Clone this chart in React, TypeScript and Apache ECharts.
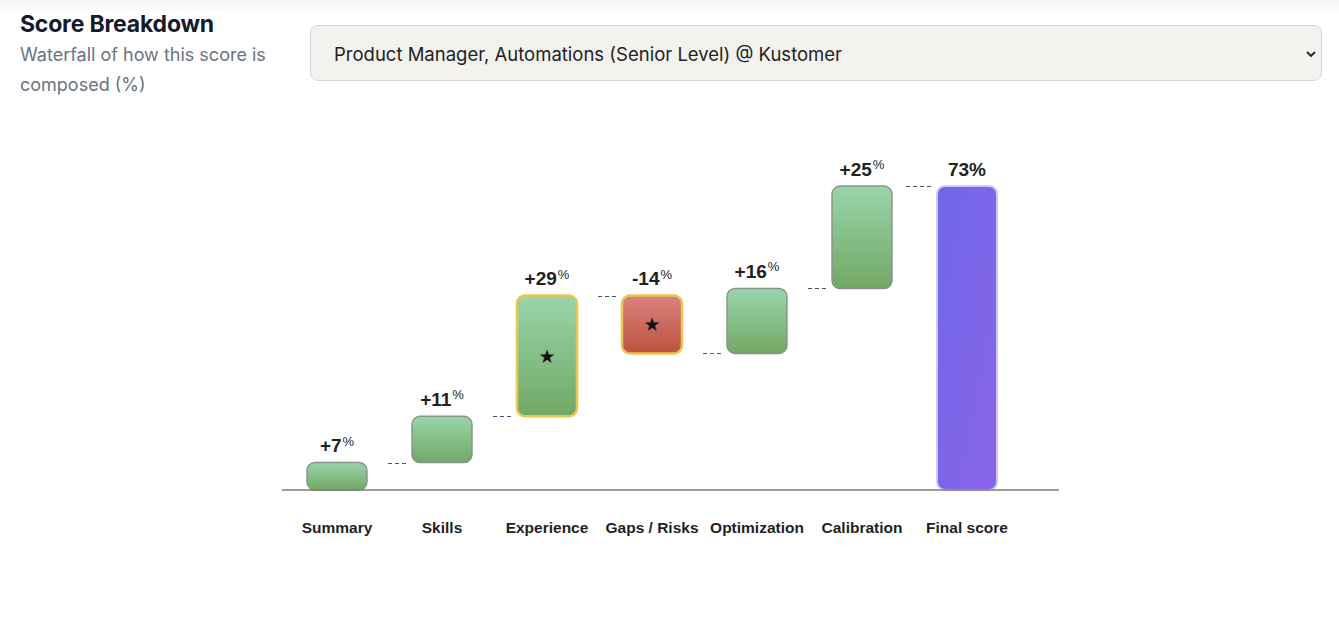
import React, { useEffect, useRef } from "react";
import * as echarts from "echarts";

const categories = ["Summary", "Skills", "Experience", "Gaps / Risks", "Optimization", "Calibration", "Final score"];
const deltas = [6.6, 11.1, 29.0, -13.9, 15.6, 24.6];
const finalScore = 73.0;
const starred = [0, 0, 1, 1, 0, 0, 0];
const yMin = 0;
const yMax = 80;

const CHART_FONT = "'Liberation Sans', Arial, sans-serif";

function buildData() {
  const rows: number[][] = [];
  let cum = 0;
  deltas.forEach((d, i) => {
    const start = cum;
    const end = cum + d;
    rows.push([i, Math.min(start, end), Math.max(start, end), d >= 0 ? 0 : 1, starred[i], i === 0 ? NaN : start, d]);
    cum = end;
  });
  rows.push([deltas.length, 0, finalScore, 2, starred[deltas.length], finalScore, finalScore]);
  return rows;
}

export default function App() {
  const ref = useRef<HTMLDivElement>(null);

  useEffect(() => {
    if (!ref.current) return;
    const chart = echarts.init(ref.current, null, { renderer: "svg" });
    const data = buildData();

    const greenFill = () =>
      new echarts.graphic.LinearGradient(0, 0, 0, 1, [
        { offset: 0, color: "#9ad4aa" },
        { offset: 1, color: "#72a865" },
      ]);
    const redFill = () =>
      new echarts.graphic.LinearGradient(0, 0, 0, 1, [
        { offset: 0, color: "#da817e" },
        { offset: 1, color: "#bd523d" },
      ]);
    const purpleFill = () =>
      new echarts.graphic.LinearGradient(0, 0, 1, 1, [
        { offset: 0, color: "#6f67e8" },
        { offset: 1, color: "#8a64e9" },
      ]);

    const renderItem = (params: any, api: any) => {
      const idx = api.value(0);
      const lo = api.value(1);
      const hi = api.value(2);
      const kind = api.value(3);
      const star = api.value(4);
      const level = api.value(5);
      const delta = api.value(6);
      const pTop = api.coord([idx, hi]);
      const pBot = api.coord([idx, lo]);
      const cx = pTop[0];
      const bw = 60;
      const left = cx - bw / 2;
      const top = pTop[1];
      const bot = pBot[1];

      let fill: any;
      let stroke: string;
      let lw: number;
      if (kind === 2) {
        fill = purpleFill();
        stroke = "#cdc8f6";
        lw = 2;
      } else {
        fill = kind === 0 ? greenFill() : redFill();
        stroke = star ? "#e8c650" : "#879487";
        lw = star ? 2.5 : 1.4;
      }

      const children: any[] = [
        {
          type: "rect",
          shape: { x: left, y: top, width: bw, height: bot - top, r: 8 },
          style: { fill, stroke, lineWidth: lw },
        },
      ];

      const rounded = Math.round(delta);
      const labelText =
        kind === 2
          ? `{t|${rounded}%}`
          : `{a|${rounded >= 0 ? "+" : "-"}${Math.abs(rounded)}}{b|%}`;
      children.push({
        type: "text",
        x: cx,
        y: top - 6,
        style: {
          text: labelText,
          align: "center",
          verticalAlign: "bottom",
          rich: {
            a: { fontSize: 19, fontWeight: "bold", fill: "#222222", fontFamily: CHART_FONT, lineHeight: 22 },
            b: { fontSize: 13, fontWeight: "normal", fill: "#222222", fontFamily: CHART_FONT, lineHeight: 22, verticalAlign: "top", padding: [0, 0, 0, 1] },
            t: { fontSize: 19, fontWeight: "bold", fill: "#222222", fontFamily: CHART_FONT, lineHeight: 22 },
          },
        },
      });

      if (star) {
        children.push({
          type: "text",
          x: cx,
          y: (top + bot) / 2,
          style: {
            text: "★",
            align: "center",
            verticalAlign: "middle",
            fontSize: 19,
            fill: "#141414",
            fontFamily: "'DejaVu Sans', sans-serif",
          },
        });
      }

      if (!isNaN(level)) {
        const ly = Math.round(api.coord([idx, level])[1]) + 0.5;
        const len = kind === 2 ? 27 : 21;
        const gap = kind === 2 ? 4 : 3;
        children.push({
          type: "line",
          shape: { x1: left - gap - len, y1: ly, x2: left - gap, y2: ly },
          style: { stroke: "#4b5270", lineWidth: 1, lineDash: [4, 3] },
        });
      }

      return { type: "group", children };
    };

    chart.setOption({
      animation: false,
      grid: { left: 284.5, width: 735, top: 490 - 333.1, height: 333.1 },
      xAxis: {
        type: "category",
        data: categories,
        axisLine: { show: false },
        axisTick: { show: false },
        axisLabel: {
          interval: 0,
          margin: 29,
          fontSize: 15.5,
          fontWeight: "bold",
          color: "#1f1f1f",
          fontFamily: CHART_FONT,
        },
        splitLine: { show: false },
      },
      yAxis: {
        type: "value",
        min: yMin,
        max: yMax,
        show: false,
        splitLine: { show: false },
      },
      series: [
        {
          type: "custom",
          renderItem,
          data,
          encode: { x: 0, y: [1, 2] },
          clip: false,
        },
      ],
      graphic: [
        {
          type: "line",
          z: 100,
          shape: { x1: 282, y1: 490, x2: 1059, y2: 490 },
          style: { stroke: "#7c7c7c", lineWidth: 1.6 },
        },
      ],
    });

    return () => chart.dispose();
  }, []);

  return (
    <div
      style={{
        position: "absolute",
        left: 0,
        top: 0,
        width: 1339,
        height: 619,
        background: "#ffffff",
        overflow: "hidden",
        fontFamily: "Inter, 'Noto Sans', sans-serif",
      }}
    >
      <div ref={ref} style={{ position: "absolute", left: 0, top: 0, width: 1339, height: 619 }} />
      <div
        style={{
          position: "absolute",
          left: 0,
          top: 0,
          width: 1339,
          height: 14,
          background: "linear-gradient(rgba(0,0,0,0.045), rgba(0,0,0,0))",
          pointerEvents: "none",
        }}
      />
      <div
        style={{
          position: "absolute",
          left: 20,
          top: 9,
          fontSize: 23,
          fontWeight: 700,
          color: "#151a2d",
          letterSpacing: -0.2,
          lineHeight: "30px",
        }}
      >
        Score Breakdown
      </div>
      <div
        style={{
          position: "absolute",
          left: 20,
          top: 40,
          width: 270,
          fontSize: 18,
          color: "#6b7280",
          lineHeight: "30px",
        }}
      >
        Waterfall of how this score is composed (%)
      </div>
      <div
        style={{
          position: "absolute",
          left: 310,
          top: 25,
          width: 1012,
          height: 56,
          boxSizing: "border-box",
          background: "#f3f2ef",
          border: "1px solid #d9d8d4",
          borderRadius: 8,
        }}
      >
        <div
          style={{
            position: "absolute",
            left: 23,
            top: 1,
            lineHeight: "54px",
            fontSize: 18.5,
            color: "#222222",
          }}
        >
          Product Manager, Automations (Senior Level) @ Kustomer
        </div>
        <svg
          style={{ position: "absolute", left: 995, top: 24 }}
          width="10"
          height="8"
          viewBox="0 0 10 8"
        >
          <polyline points="1,2 5,6 9,2" fill="none" stroke="#222" strokeWidth="1.8" />
        </svg>
      </div>
    </div>
  );
}
